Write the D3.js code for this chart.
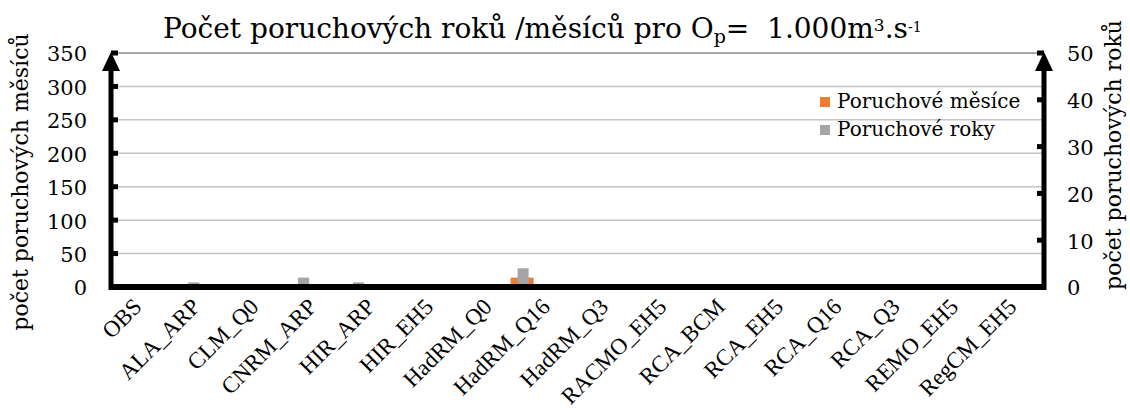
<!DOCTYPE html>
<html>
<head>
<meta charset="utf-8">
<script src="https://cdn.jsdelivr.net/npm/d3@7"></script>
<style>
  body { margin: 0; background: #fff; }
  text { font-family: "DejaVu Serif", serif; fill: #000; }
</style>
</head>
<body>
<div id="chart"></div>
<script>
// Data
const categories = ["OBS", "ALA_ARP", "CLM_Q0", "CNRM_ARP", "HIR_ARP", "HIR_EH5", "HadRM_Q0",
  "HadRM_Q16", "HadRM_Q3", "RACMO_EH5", "RCA_BCM", "RCA_EH5", "RCA_Q16", "RCA_Q3", "REMO_EH5", "RegCM_EH5"];
const months = [0, 0, 0, 0, 0, 0, 0, 14, 0, 0, 0, 0, 0, 0, 0, 0];   // Poruchové měsíce (left axis)
const years = [0, 1, 0, 2, 1, 0, 0, 4, 0, 0, 0, 0, 0, 0, 0, 0];     // Poruchové roky (right axis)
const leftTicks = [0, 50, 100, 150, 200, 250, 300, 350];
const rightTicks = [0, 10, 20, 30, 40, 50];

const width = 1130, height = 418;
const margin = { top: 53, right: 86, bottom: 131, left: 111 };
const innerW = width - margin.left - margin.right;
const innerH = height - margin.top - margin.bottom;

const svg = d3.select("#chart").append("svg")
  .attr("width", width)
  .attr("height", height);

const g = svg.append("g").attr("transform", `translate(${margin.left},${margin.top})`);

// bars sit on one extra empty slot, labels are spread over the categories only
const xBars = d3.scaleBand().domain(d3.range(categories.length + 1)).range([0, innerW]);
const xLab = d3.scaleBand().domain(categories).range([0, innerW]);
const yL = d3.scaleLinear().domain([0, 350]).range([innerH, 0]);
const yR = d3.scaleLinear().domain([0, 50]).range([innerH, 0]);

// gridlines
g.append("g")
  .selectAll("line")
  .data(leftTicks.filter(d => d > 0))
  .join("line")
  .attr("x1", 0)
  .attr("x2", innerW)
  .attr("y1", d => yL(d))
  .attr("y2", d => yL(d))
  .attr("stroke", d => d === 350 ? "#8c8c8c" : "#c4c4c4")
  .attr("stroke-width", 1.5);

// bars
g.append("g")
  .selectAll("rect")
  .data(months)
  .join("rect")
  .attr("x", (d, i) => xBars(i) + xBars.bandwidth() / 2 - 12)
  .attr("width", 23)
  .attr("y", d => yL(d))
  .attr("height", d => innerH - yL(d))
  .attr("fill", "#ED7D31");

g.append("g")
  .selectAll("rect")
  .data(years)
  .join("rect")
  .attr("x", (d, i) => xBars(i) + xBars.bandwidth() / 2 - 5)
  .attr("width", 11)
  .attr("y", d => yR(d))
  .attr("height", d => innerH - yR(d))
  .attr("fill", "#A5A5A5");

// left axis
const leftAxis = g.append("g")
  .call(d3.axisLeft(yL).tickValues(leftTicks).tickSize(0).tickPadding(24));
leftAxis.select(".domain").remove();
leftAxis.selectAll("text").style("font-size", "21px").attr("dy", "0.38em");
g.append("g")
  .selectAll("rect")
  .data(leftTicks.filter(d => d > 0))
  .join("rect")
  .attr("x", 0)
  .attr("y", d => yL(d) - 2.5)
  .attr("width", 7)
  .attr("height", 5)
  .attr("fill", "#000");

// right axis
const rightAxis = g.append("g")
  .attr("transform", `translate(${innerW},0)`)
  .call(d3.axisRight(yR).tickValues(rightTicks).tickSize(0).tickPadding(23));
rightAxis.select(".domain").remove();
rightAxis.selectAll("text").style("font-size", "21px").attr("dy", "0.38em");
g.append("g")
  .selectAll("rect")
  .data(rightTicks.filter(d => d > 0))
  .join("rect")
  .attr("x", innerW - 7)
  .attr("y", d => yR(d) - 2.5)
  .attr("width", 7)
  .attr("height", 5)
  .attr("fill", "#000");

// thick axis lines with arrow heads
g.append("line").attr("x1", -2).attr("x2", innerW + 2).attr("y1", innerH).attr("y2", innerH)
  .attr("stroke", "#000").attr("stroke-width", 6);
[0, innerW].forEach(x0 => {
  g.append("line").attr("x1", x0).attr("x2", x0).attr("y1", innerH + 3).attr("y2", 12)
    .attr("stroke", "#000").attr("stroke-width", 5);
  g.append("path")
    .attr("d", `M${x0},-1 L${x0 - 9},18 L${x0 + 9},18 Z`)
    .attr("fill", "#000");
});

// category labels
g.append("g")
  .selectAll("text")
  .data(categories)
  .join("text")
  .attr("transform", d => `translate(${xLab(d) + xLab.bandwidth() / 2 + 3},${innerH + 21}) rotate(-45)`)
  .attr("text-anchor", "end")
  .style("font-family", "'Liberation Serif', serif")
  .style("font-size", "23px")
  .text(d => d);

// axis titles
svg.append("text")
  .attr("transform", `translate(28,182) rotate(-90)`)
  .attr("text-anchor", "middle")
  .style("font-size", "22px")
  .text("počet poruchových měsíců");

svg.append("text")
  .attr("transform", `translate(1121,155) rotate(-90)`)
  .attr("text-anchor", "middle")
  .style("font-size", "22px")
  .text("počet poruchových roků");

// title
const title = svg.append("text")
  .attr("x", 163)
  .attr("y", 38)
  .attr("xml:space", "preserve")
  .style("font-size", "28px");
title.append("tspan").text("Počet poruchových roků /měsíců pro O");
title.append("tspan").attr("baseline-shift", "-25%").style("font-size", "19px").text("p");
title.append("tspan").text("=\u00a0 1.000m");
title.append("tspan").attr("baseline-shift", "40%").style("font-size", "17px").text("3");
title.append("tspan").text(".s");
title.append("tspan").attr("baseline-shift", "40%").style("font-size", "14px").text("-1");

// legend
const legendItems = [
  { name: "Poruchové měsíce", color: "#ED7D31" },
  { name: "Poruchové roky", color: "#A5A5A5" }
];
const legend = svg.append("g").attr("transform", "translate(820,97)");
legend.selectAll("rect")
  .data(legendItems)
  .join("rect")
  .attr("x", 0)
  .attr("y", (d, i) => i * 28)
  .attr("width", 10)
  .attr("height", 10)
  .attr("fill", d => d.color);
legend.selectAll("text")
  .data(legendItems)
  .join("text")
  .attr("x", 17)
  .attr("y", (d, i) => i * 28 + 11)
  .style("font-size", "20px")
  .text(d => d.name);
</script>
</body>
</html>
